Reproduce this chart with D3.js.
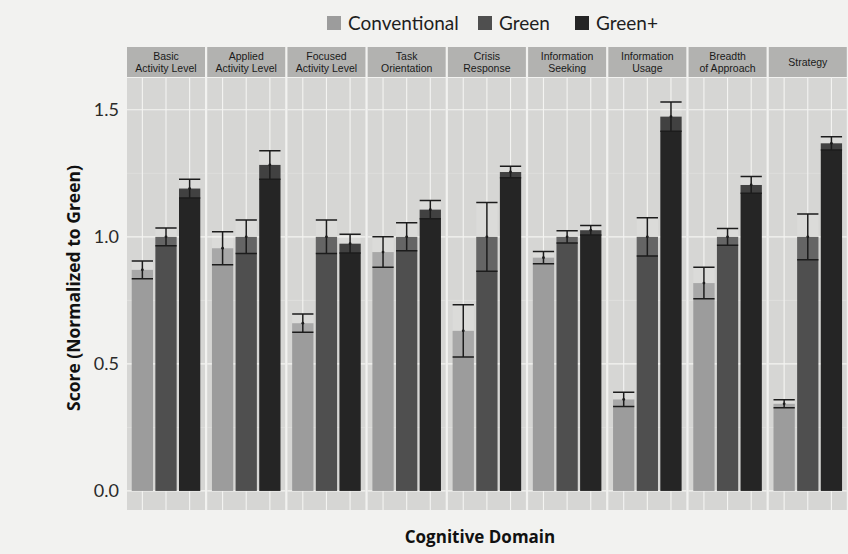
<!DOCTYPE html>
<html>
<head>
<meta charset="utf-8">
<script src="https://cdn.jsdelivr.net/npm/d3@7"></script>
<style>
    body { margin: 0; background: #f2f2f0; }
    svg { display: block; }
    .tick-label { font-family: Lato, "Open Sans", sans-serif; font-size: 18px; fill: #2a2a2a; }
    .strip text { font-family: "Liberation Sans", Arial, sans-serif; font-size: 10.5px; fill: #1a1a1a; }
    .legend text { font-family: Lato, "Open Sans", sans-serif; font-size: 19px; fill: #1e1e1e; }
    .title { font-family: "Open Sans", Lato, sans-serif; font-weight: bold; fill: #111; }
</style>
</head>
<body>
<svg id="chart" width="848" height="554"></svg>
<script>
// domains (facets), left to right
const domains = [
    ["Basic", "Activity Level"],
    ["Applied", "Activity Level"],
    ["Focused", "Activity Level"],
    ["Task", "Orientation"],
    ["Crisis", "Response"],
    ["Information", "Seeking"],
    ["Information", "Usage"],
    ["Breadth", "of Approach"],
    ["Strategy"]
];
const groups = ["Conventional", "Green", "Green+"];
const groupColors = ["#9c9c9c", "#4f4f4f", "#252525"];

// means per domain
const conventional = [0.87, 0.955, 0.66, 0.94, 0.63, 0.918, 0.36, 0.818, 0.343];
const green        = [1.0, 1.0, 1.0, 1.0, 1.0, 1.0, 1.0, 1.0, 1.0];
const greenPlus    = [1.19, 1.283, 0.973, 1.107, 1.255, 1.026, 1.473, 1.204, 1.368];

// error half-widths
const conventionalErr = [0.035, 0.065, 0.036, 0.06, 0.103, 0.024, 0.028, 0.062, 0.016];
const greenErr        = [0.035, 0.066, 0.066, 0.055, 0.135, 0.024, 0.075, 0.033, 0.09];
const greenPlusErr    = [0.037, 0.056, 0.037, 0.036, 0.023, 0.019, 0.058, 0.033, 0.026];

const yTicks = [0, 0.5, 1.0, 1.5];
const yMinor = [0.25, 0.75, 1.25];

const means = [conventional, green, greenPlus];
const errs = [conventionalErr, greenErr, greenPlusErr];

const margin = {top: 78, left: 127, bottom: 44};
const panelW = 78, panelStep = 80, stripH = 30;
const height = 554 - margin.top - margin.bottom;

const svg = d3.select("#chart");

const y = d3.scaleLinear().domain([-0.075, 1.625]).range([margin.top + height, margin.top]);
const facet = d3.scaleBand().domain(d3.range(domains.length))
    .range([margin.left, margin.left + panelStep * domains.length]).paddingInner(2 / panelStep);
const x = d3.scaleBand().domain(groups).range([0, panelW]).paddingInner(0.1).paddingOuter(0.2);

// legend
const legendX = [327, 478, 575];
const legend = svg.append("g").attr("class", "legend");
groups.forEach((g, i) => {
    legend.append("rect").attr("x", legendX[i]).attr("y", 16).attr("width", 14).attr("height", 14)
        .attr("fill", groupColors[i]);
    legend.append("text").attr("x", legendX[i] + 21).attr("y", 30).text(g);
});

// y axis labels
svg.append("g").selectAll("text").data(yTicks).join("text")
    .attr("class", "tick-label")
    .attr("x", 119).attr("y", d => y(d)).attr("dy", "0.36em")
    .attr("text-anchor", "end")
    .text(d => d3.format(".1f")(d));

svg.append("text").attr("class", "title")
    .attr("transform", "translate(80," + 288 + ") rotate(-90)")
    .attr("text-anchor", "middle").style("font-size", "17.5px")
    .text("Score (Normalized to Green)");

svg.append("text").attr("class", "title")
    .attr("x", 480).attr("y", 543).attr("text-anchor", "middle").style("font-size", "17px")
    .text("Cognitive Domain");

// panels
domains.forEach((dom, di) => {
    const px = facet(di);
    const g = svg.append("g").attr("transform", "translate(" + px + ",0)");

    // strip
    const strip = g.append("g").attr("class", "strip");
    strip.append("rect").attr("x", 0).attr("y", margin.top - stripH - 1)
        .attr("width", panelW).attr("height", stripH).attr("fill", "#b2b2b0");
    const midY = margin.top - stripH / 2 - 1;
    dom.forEach((line, li) => {
        strip.append("text").attr("x", panelW / 2)
            .attr("y", midY + (li - (dom.length - 1) / 2) * 12)
            .attr("dy", "0.35em").attr("text-anchor", "middle").text(line);
    });

    // panel background + grid
    g.append("rect").attr("x", 0).attr("y", margin.top).attr("width", panelW).attr("height", height)
        .attr("fill", "#d6d6d4");
    g.append("g").selectAll("line").data(yMinor).join("line")
        .attr("x1", 0).attr("x2", panelW).attr("y1", d => y(d)).attr("y2", d => y(d))
        .attr("stroke", "#e4e4e2").attr("stroke-width", 0.6);
    g.append("g").selectAll("line").data(yTicks).join("line")
        .attr("x1", 0).attr("x2", panelW).attr("y1", d => y(d)).attr("y2", d => y(d))
        .attr("stroke", "#f4f4f2").attr("stroke-width", 1.2);
    g.append("g").selectAll("line").data(groups).join("line")
        .attr("x1", d => x(d) + x.bandwidth() / 2).attr("x2", d => x(d) + x.bandwidth() / 2)
        .attr("y1", margin.top).attr("y2", margin.top + height)
        .attr("stroke", "#f4f4f2").attr("stroke-width", 1.1);

    // bars
    const rows = groups.map((grp, gi) => ({grp, gi, v: means[gi][di], e: errs[gi][di]}));
    g.append("g").selectAll("rect").data(rows).join("rect")
        .attr("x", d => x(d.grp)).attr("width", x.bandwidth())
        .attr("y", d => y(d.v)).attr("height", d => y(0) - y(d.v))
        .attr("fill", d => groupColors[d.gi]);

    // error band
    g.append("g").selectAll("rect").data(rows).join("rect")
        .attr("x", d => x(d.grp)).attr("width", x.bandwidth())
        .attr("y", d => y(d.v + d.e)).attr("height", d => y(d.v - d.e) - y(d.v + d.e))
        .attr("fill", "#ffffff").attr("fill-opacity", 0.13);

    // error bars
    const eb = g.append("g").attr("stroke", "#1c1c1c").attr("stroke-width", 1.5).attr("fill", "none");
    eb.selectAll("path").data(rows).join("path")
        .attr("d", d => {
            const x0 = x(d.grp), x1 = x0 + x.bandwidth(), xc = x0 + x.bandwidth() / 2;
            const t = y(d.v + d.e), b = y(d.v - d.e);
            return "M" + x0 + "," + t + "H" + x1 + "M" + xc + "," + t + "V" + b + "M" + x0 + "," + b + "H" + x1;
        });
    g.append("g").selectAll("circle").data(rows).join("circle")
        .attr("cx", d => x(d.grp) + x.bandwidth() / 2).attr("cy", d => y(d.v))
        .attr("r", 1.4).attr("fill", "#1c1c1c");
});
</script>
</body>
</html>
